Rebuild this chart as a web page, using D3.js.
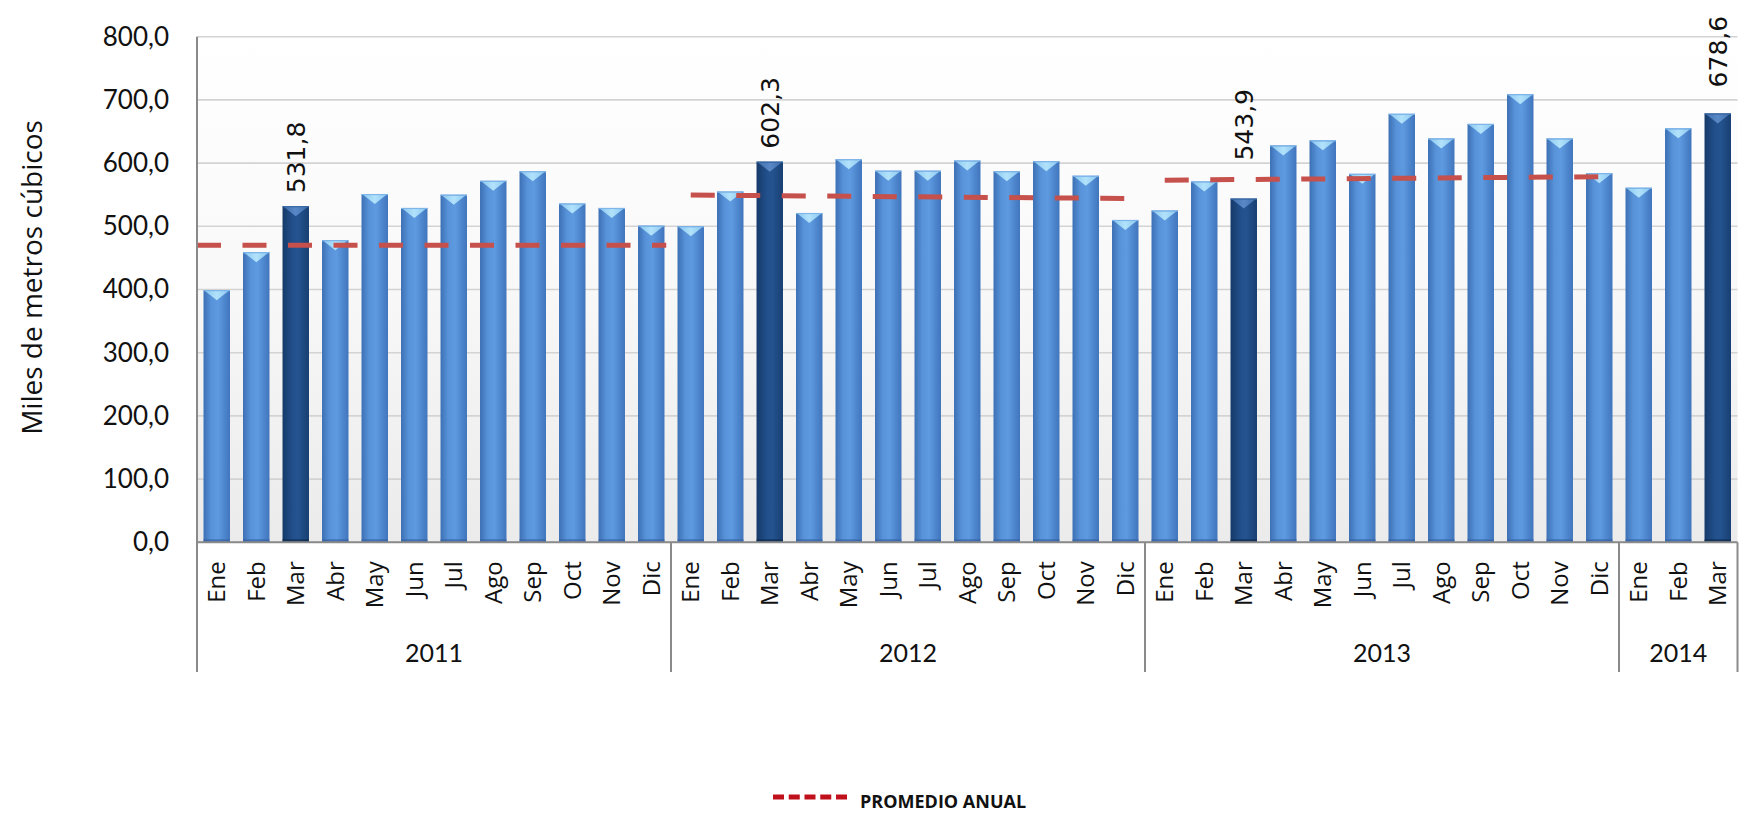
<!DOCTYPE html>
<html>
<head>
<meta charset="utf-8">
<script src="https://cdn.jsdelivr.net/npm/d3@7"></script>
<style>
  html, body { margin: 0; padding: 0; background: #ffffff; }
  svg { display: block; }
</style>
</head>
<body>
<div id="chart"></div>
<script>
// ---------------- DATA ----------------
const months = ["Ene","Feb","Mar","Abr","May","Jun","Jul","Ago","Sep","Oct","Nov","Dic"];
const years = ["2011","2012","2013","2014"];
const values2011 = [399, 459, 531.8, 478, 551, 529, 550, 572, 587, 536, 529, 501];
const values2012 = [500, 555, 602.3, 521, 606, 588, 588, 604, 587, 603, 580, 510];
const values2013 = [525, 571, 543.9, 628, 636, 583, 678, 639, 662, 709, 639, 584];
const values2014 = [561, 655, 678.6];
const highlightMonth = "Mar";               // dark bars with value labels
const avgYears = ["2011","2012","2013"];    // "PROMEDIO ANUAL" line per year
const avgStartValues = [470, 549.5, 573];
const avgEndValues = [470, 544, 578.5];
const yTicks = [0, 100, 200, 300, 400, 500, 600, 700, 800];
const yTitle = "Miles de metros cúbicos";
const legendLabel = "PROMEDIO ANUAL";

// ---------------- BUILD ROWS ----------------
const seriesByYear = [values2011, values2012, values2013, values2014];
const rows = [];
seriesByYear.forEach((vals, yi) => {
  vals.forEach((v, mi) => rows.push({ key: years[yi] + "-" + months[mi], year: years[yi], month: months[mi], value: v }));
});

// ---------------- LAYOUT ----------------
const W = 1739, H = 813;
const plotLeft = 197, plotRight = 1737.5, plotTop = 36.7, plotBottom = 542.3;
const sepBottom = 672;

const svg = d3.select("#chart").append("svg").attr("width", W).attr("height", H);

const x = d3.scaleBand().domain(rows.map(d => d.key)).range([plotLeft, plotRight])
  .paddingInner(0.33).paddingOuter(0.165);
const y = d3.scaleLinear().domain([0, 800]).range([plotBottom, plotTop]);
const step = x.step(), bw = x.bandwidth();
const cx = k => x(k) + bw / 2;

// defs
const defs = svg.append("defs");
const bg = defs.append("linearGradient").attr("id", "bg").attr("x1", 0).attr("y1", 0).attr("x2", 0).attr("y2", 1);
bg.append("stop").attr("offset", "0%").attr("stop-color", "#ffffff");
bg.append("stop").attr("offset", "45%").attr("stop-color", "#f9f9f9");
bg.append("stop").attr("offset", "100%").attr("stop-color", "#ebebeb");

function hGrad(id, stops) {
  const g = defs.append("linearGradient").attr("id", id).attr("x1", 0).attr("y1", 0).attr("x2", 1).attr("y2", 0);
  stops.forEach(s => g.append("stop").attr("offset", s[0]).attr("stop-color", s[1]));
}
hGrad("barN", [["0%", "#3d70b4"], ["30%", "#5893da"], ["55%", "#5e9ae0"], ["100%", "#4075bc"]]);
hGrad("barD", [["0%", "#163a69"], ["40%", "#22508c"], ["60%", "#24538f"], ["100%", "#183f72"]]);
hGrad("capN", [["0%", "#8cc8f0"], ["50%", "#b2e2fb"], ["100%", "#8cc8f0"]]);
hGrad("capD", [["0%", "#3f6fae"], ["50%", "#5a88c6"], ["100%", "#3f6fae"]]);

// plot background
svg.append("rect").attr("x", plotLeft).attr("y", plotTop)
  .attr("width", plotRight - plotLeft).attr("height", plotBottom - plotTop)
  .attr("fill", "url(#bg)");

// gridlines
svg.append("g").selectAll("line").data(yTicks).join("line")
  .attr("x1", plotLeft).attr("x2", plotRight)
  .attr("y1", d => y(d)).attr("y2", d => y(d))
  .attr("stroke", "#d3d3d3").attr("stroke-width", 1.6);

// y axis
const yAxis = d3.axisLeft(y).tickValues(yTicks).tickSize(0).tickPadding(28)
  .tickFormat(d => d3.format(".1f")(d).replace(".", ","));
const yg = svg.append("g").attr("transform", `translate(${plotLeft},0)`).call(yAxis);
yg.select(".domain").remove();
yg.selectAll("text").attr("font-family", "Lato, sans-serif").attr("font-size", 26).attr("fill", "#111");

// y title
svg.append("text")
  .attr("transform", `translate(42,${(plotTop + plotBottom) / 2 - 12}) rotate(-90)`)
  .attr("text-anchor", "middle")
  .attr("font-family", "'Open Sans', sans-serif").attr("font-size", 28).attr("fill", "#111")
  .text(yTitle);

// bars
const bars = svg.append("g").selectAll("g").data(rows).join("g");
bars.append("rect")
  .attr("x", d => x(d.key)).attr("width", bw)
  .attr("y", d => y(d.value)).attr("height", d => y(0) - y(d.value))
  .attr("fill", d => d.month === highlightMonth ? "url(#barD)" : "url(#barN)");
bars.append("rect")
  .attr("x", d => x(d.key)).attr("width", bw)
  .attr("y", d => y(0) - 3).attr("height", 3)
  .attr("fill", d => d.month === highlightMonth ? "#10294a" : "#3561a0").attr("opacity", 0.7);
bars.append("path")
  .attr("d", d => {
    const x0 = x(d.key), t = y(d.value);
    return `M${x0 + 1.5},${t + 0.8} L${x0 + bw - 1.5},${t + 0.8} L${x0 + bw / 2},${t + 10} Z`;
  })
  .attr("fill", d => d.month === highlightMonth ? "url(#capD)" : "url(#capN)");
bars.append("line")
  .attr("x1", d => x(d.key)).attr("x2", d => x(d.key) + bw)
  .attr("y1", d => y(d.value) + 0.5).attr("y2", d => y(d.value) + 0.5)
  .attr("stroke", d => d.month === highlightMonth ? "#3a6aa8" : "#7fb6ea").attr("stroke-width", 1.2);

// value labels on highlighted bars
const labelGaps = { "2011": 13, "2012": 13, "2013": 38, "2014": 26 };
svg.append("g").selectAll("text").data(rows.filter(d => d.month === highlightMonth)).join("text")
  .attr("transform", d => `translate(${cx(d.key)},${y(d.value) - labelGaps[d.year]}) rotate(-90)`)
  .attr("dy", "0.36em")
  .attr("text-anchor", "start")
  .attr("font-family", "'DejaVu Sans', sans-serif").attr("font-size", 25).attr("fill", "#111")
  .text(d => d3.format(".1f")(d.value).replace(".", ","));

// annual average dashed lines
avgYears.forEach((yr, i) => {
  const keys = rows.filter(d => d.year === yr).map(d => d.key);
  const first = keys[0], last = keys[keys.length - 1];
  let x1 = cx(first), x2 = cx(last);
  if (i === 0) { x1 = x(first) - (step - bw) / 2; x2 = cx(last) + 15; }
  const line = d3.line().x(d => d[0]).y(d => y(d[1]));
  svg.append("path")
    .attr("d", line([[x1, avgStartValues[i]], [x2, avgEndValues[i]]]))
    .attr("fill", "none").attr("stroke", "#c6504b").attr("stroke-width", 5)
    .attr("stroke-dasharray", "24,21.5");
});

// x axis baseline and left axis line
svg.append("line").attr("x1", plotLeft).attr("x2", plotRight).attr("y1", y(0)).attr("y2", y(0))
  .attr("stroke", "#8a8a8a").attr("stroke-width", 2);
svg.append("line").attr("x1", plotLeft).attr("x2", plotLeft).attr("y1", plotTop).attr("y2", sepBottom)
  .attr("stroke", "#8a8a8a").attr("stroke-width", 2);

// month labels
const xAxis = d3.axisBottom(x).tickSize(0).tickFormat(k => k.split("-")[1]);
const xg = svg.append("g").attr("transform", `translate(0,${y(0)})`).call(xAxis);
xg.select(".domain").remove();
xg.selectAll("text")
  .attr("transform", "rotate(-90)")
  .attr("x", -19).attr("y", 0).attr("dy", "0.36em")
  .attr("text-anchor", "end")
  .attr("font-family", "'Open Sans', sans-serif").attr("font-size", 24).attr("fill", "#111");

// year group separators and labels
const groups = years.map(yr => {
  const keys = rows.filter(d => d.year === yr).map(d => d.key);
  const start = x(keys[0]) - (step - bw) / 2;
  const end = x(keys[keys.length - 1]) + bw + (step - bw) / 2;
  return { yr, start, end };
});
svg.append("g").selectAll("line").data(groups.map(g => g.end)).join("line")
  .attr("x1", d => d).attr("x2", d => d).attr("y1", y(0)).attr("y2", sepBottom)
  .attr("stroke", "#8a8a8a").attr("stroke-width", 2);
svg.append("g").selectAll("text").data(groups).join("text")
  .attr("x", g => (g.start + g.end) / 2).attr("y", 653).attr("dy", "0.35em")
  .attr("text-anchor", "middle")
  .attr("font-family", "Lato, sans-serif").attr("font-size", 25).attr("fill", "#111")
  .text(g => g.yr);

// legend
svg.append("line").attr("x1", 773).attr("x2", 847).attr("y1", 797).attr("y2", 797)
  .attr("stroke", "#c0101c").attr("stroke-width", 5).attr("stroke-dasharray", "11,4.75");
svg.append("text").attr("x", 860).attr("y", 808)
  .attr("font-family", "'Open Sans', sans-serif").attr("font-weight", "bold").attr("font-size", 18)
  .attr("fill", "#111").text(legendLabel);
</script>
</body>
</html>
